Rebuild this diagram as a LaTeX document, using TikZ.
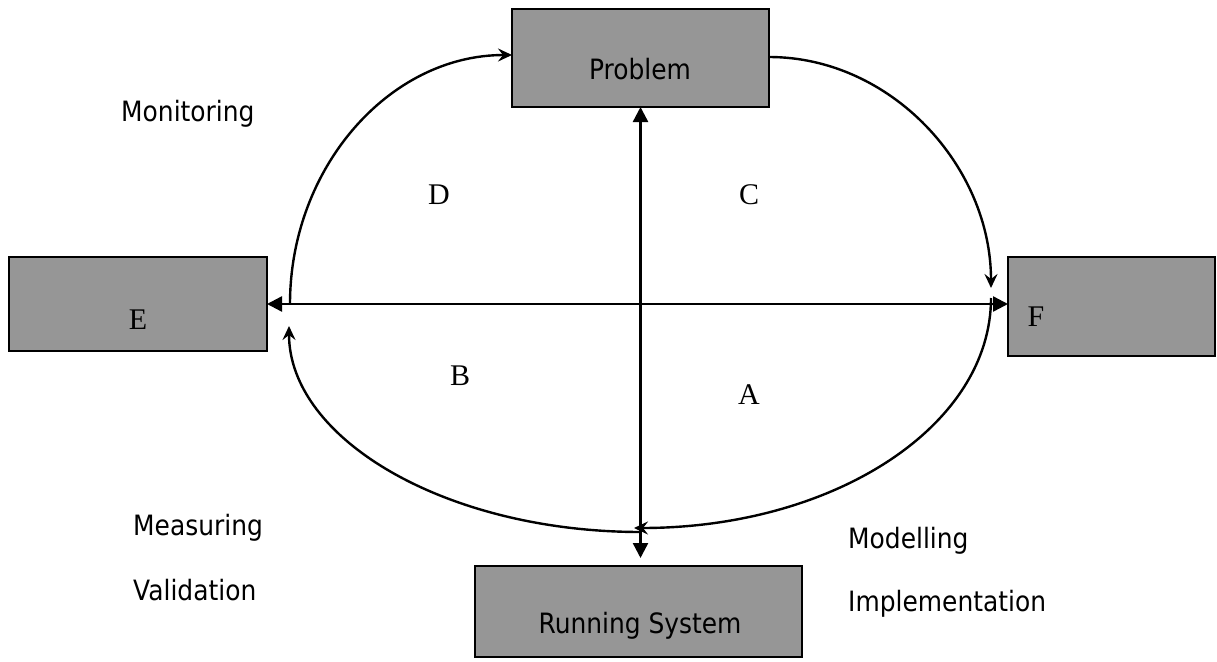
\documentclass[tikz,border=0pt]{standalone}
\usepackage{fontspec}
\setsansfont{DejaVu Sans}[FakeStretch=0.89]
\setmainfont{Liberation Serif}
\usetikzlibrary{arrows.meta}
\definecolor{boxgray}{HTML}{969696}
\begin{document}
\begin{tikzpicture}[x=1pt,y=-1pt,
  box/.style={draw=black, line width=2pt, fill=boxgray, inner sep=0pt, outer sep=0pt},
  sanslabel/.style={inner sep=0pt, font=\sffamily\fontsize{28}{33}\selectfont},
  letter/.style={inner sep=0pt, font=\rmfamily\fontsize{30}{35}\selectfont},
  straight/.style={line width=2.4pt, {Triangle[length=15pt,width=15pt]}-{Triangle[length=15pt,width=15pt]}},
  curve/.style={line width=2.4pt, -{Stealth[length=14pt,width=13pt,inset=5pt]}}]
\useasboundingbox (0,0) rectangle (1217,661);
% boxes
\node[box, minimum width=257pt, minimum height=98pt] (P) at (640.5,58) {};
\node[box, minimum width=258pt, minimum height=94pt] (E) at (138,304) {};
\node[box, minimum width=207pt, minimum height=99pt] (F) at (1111.5,306.5) {};
\node[box, minimum width=327pt, minimum height=91pt] (R) at (638.5,611.5) {};
% box texts
\node[sanslabel, anchor=base] (Pt) at (640,79) {Problem};
\node[sanslabel, anchor=base] (Rt) at (640,633) {Running System};
\node[letter] (Et) at (138,320) {E};
\node[letter] (Ft) at (1036,317) {F};
% quadrant letters
\node[letter] (Dt) at (439,195) {D};
\node[letter] (Ct) at (749,195) {C};
\node[letter] (Bt) at (460,376) {B};
\node[letter] (At) at (749,395) {A};
% side labels
\node[sanslabel, anchor=base west] (mon) at (121,121) {Monitoring};
\node[sanslabel, anchor=base west] (mea) at (133,535) {Measuring};
\node[sanslabel, anchor=base west] (val) at (133,600) {Validation};
\node[sanslabel, anchor=base west] (mod) at (848,548) {Modelling};
\node[sanslabel, anchor=base west] (imp) at (848,611) {Implementation};
% straight arrows
\draw[straight, shorten >=8pt] (P.south) -- (P.south |- R.north);
\draw[straight] (E.east) -- (E.east -| F.west);
% curve end points
\coordinate (d0) at (290,304);
\coordinate (c1) at (991,288);
\coordinate (a0) at (991,298);
\coordinate (a1) at (634,528);
\coordinate (b0) at (641,532);
\coordinate (b1) at (289,326);
% curved arrows
\draw[curve] (d0) .. controls (290,168) and (389,55) .. ([yshift=3pt]P.west);
\draw[curve] ([yshift=1pt]P.east) .. controls (891,57) and (991,166) .. (c1);
\draw[curve] (a0) .. controls (991,426) and (834,528) .. (a1);
\draw[curve] (b0) .. controls (446,532) and (289,439) .. (b1);
\end{tikzpicture}
\end{document}
